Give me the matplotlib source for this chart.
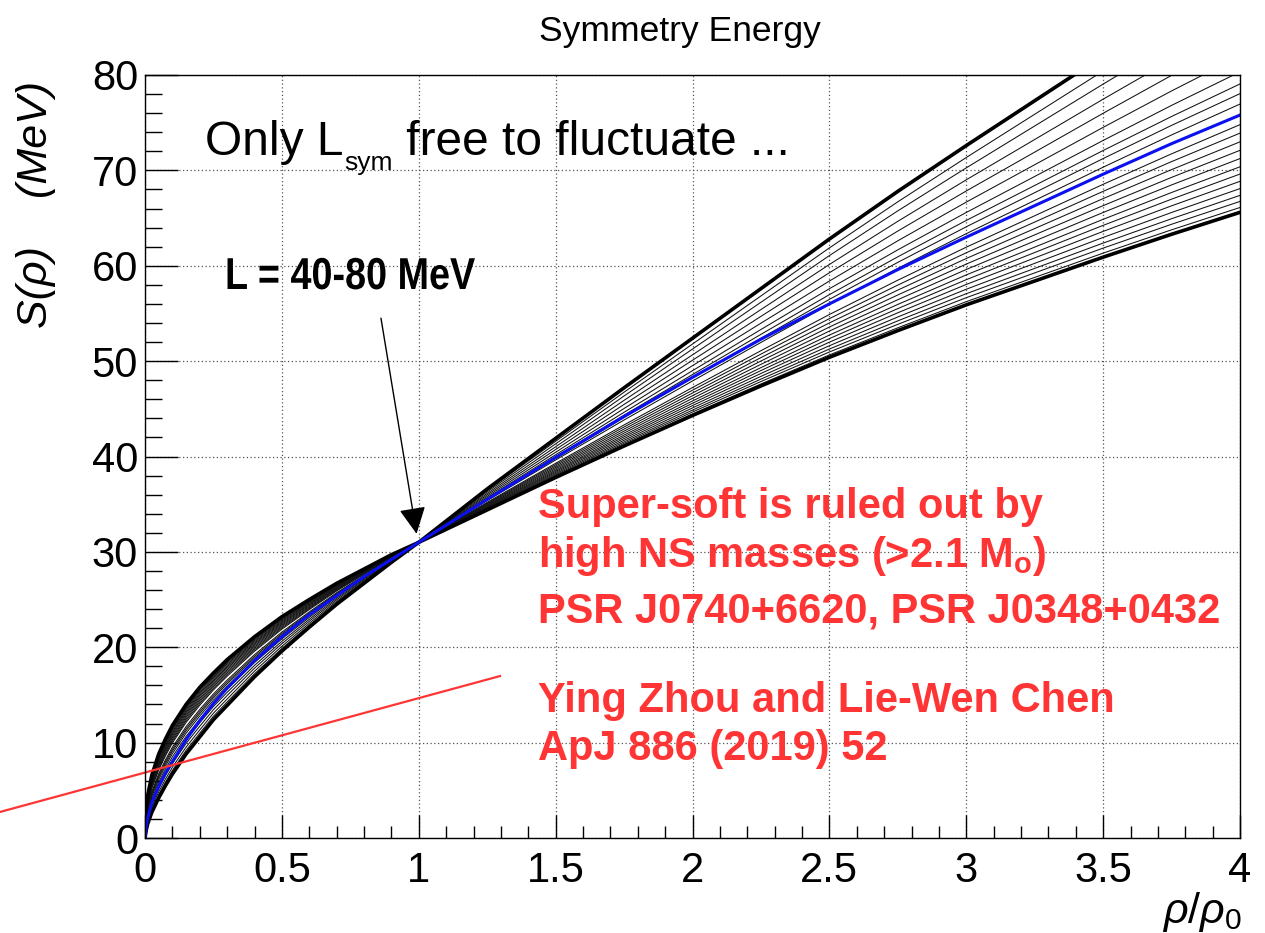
import numpy as np
import matplotlib
matplotlib.use("Agg")
import matplotlib.pyplot as plt
from matplotlib.ticker import MultipleLocator
from matplotlib.transforms import IdentityTransform, Affine2D
from matplotlib.textpath import TextPath
from matplotlib.patches import PathPatch
from matplotlib.font_manager import FontProperties

plt.rcParams['font.family'] = ['Liberation Sans', 'DejaVu Sans']
plt.rcParams['mathtext.fontset'] = 'custom'
plt.rcParams['mathtext.rm'] = 'Liberation Sans'
plt.rcParams['mathtext.it'] = 'Liberation Sans:italic'
plt.rcParams['mathtext.bf'] = 'Liberation Sans:bold'

# density rho/rho0 and S(rho) in MeV
rho = [0.0, 0.005, 0.01, 0.025, 0.05, 0.075, 0.1, 0.15, 0.2, 0.25, 0.3, 0.4, 0.5,
       0.6, 0.7, 0.8, 0.9, 1.0, 1.25, 1.5, 1.75, 2.0, 2.25, 2.5, 2.75, 3.0, 3.25,
       3.5, 3.75, 4.0]
# L = 40 MeV bound
s_soft = [0.0, 3.4, 4.5, 6.6, 8.8, 10.4, 11.8, 14.0, 15.8, 17.3, 18.7, 21.1, 23.2,
          25.0, 26.7, 28.2, 29.7, 31.0, 34.4, 37.8, 41.1, 44.3, 47.4, 50.4, 53.2,
          55.9, 58.4, 60.9, 63.3, 65.6]
# L = 80 MeV bound
s_stiff = [0.0, 0.9, 1.5, 2.7, 4.2, 5.5, 6.7, 8.8, 10.6, 12.4, 13.9, 16.9, 19.6,
           22.1, 24.5, 26.7, 28.9, 31.0, 36.6, 41.9, 47.2, 52.4, 57.6, 62.8, 67.8,
           72.6, 77.3, 82.0, 86.6, 91.0]
# central curve (blue)
s_mid = [0.0, 1.4, 2.1, 3.7, 5.4, 6.8, 8.0, 10.3, 12.3, 14.1, 15.7, 18.6, 21.1,
         23.4, 25.4, 27.4, 29.2, 31.0, 35.5, 39.9, 44.2, 48.3, 52.3, 56.0, 59.6,
         63.0, 66.3, 69.6, 72.8, 75.8]
# intermediate L values: position inside the band, soft (0) -> stiff (1)
band_frac = [0.02, 0.045, 0.07, 0.098, 0.128, 0.158, 0.188, 0.222, 0.256, 0.291,
             0.327, 0.362, 0.447, 0.49, 0.53, 0.58, 0.645, 0.715, 0.785, 0.86, 0.925]

xticks = [0, 0.5, 1, 1.5, 2, 2.5, 3, 3.5, 4]
xticklabels = ['0', '0.5', '1', '1.5', '2', '2.5', '3', '3.5', '4']
yticks = [0, 10, 20, 30, 40, 50, 60, 70, 80]

RED = '#ff3535'
H = 933

soft = np.array(s_soft)
stiff = np.array(s_stiff)

fig = plt.figure(figsize=(12.65, 9.33), dpi=100)
ax = fig.add_axes([145 / 1265, 1 - 838 / H, 1095 / 1265, 763 / H])

for f in band_frac:
    ax.plot(rho, soft + f * (stiff - soft), color='#111111', lw=0.75)
ax.plot(rho, s_soft, color='black', lw=2.6)
ax.plot(rho, s_stiff, color='black', lw=2.6)
ax.plot(rho, s_mid, color='#0a10f0', lw=2.2)

ax.set_xlim(0, 4)
ax.set_ylim(0, 80)
ax.set_xticks(xticks)
ax.set_xticklabels(xticklabels)
ax.set_yticks(yticks)
ax.xaxis.set_minor_locator(MultipleLocator(0.1))
ax.yaxis.set_minor_locator(MultipleLocator(2))
ax.tick_params(axis='both', which='both', direction='in', top=False, right=False,
               width=1, labelsize=30)
ax.tick_params(axis='x', which='major', length=16.5, pad=9)
ax.tick_params(axis='x', which='minor', length=8.3)
ax.tick_params(axis='y', which='major', length=23.7, pad=5)
ax.tick_params(axis='y', which='minor', length=11.9)
ax.grid(True, which='major', color='#555555', linestyle=(0, (1, 2)), lw=0.9)
ax.set_axisbelow(True)
for sp in ax.spines.values():
    sp.set_linewidth(1.0)

# "Only L_sym free to fluctuate ..." built from pieces so the subscript sits low
renderer = fig.canvas.get_renderer()
t1 = fig.text(205, H - 155, 'Only L', fontsize=34.5, va='baseline', ha='left',
              transform=IdentityTransform())
x_sym = t1.get_window_extent(renderer).x1 + 1
t2 = fig.text(x_sym, H - 170, 'sym', fontsize=19, va='baseline', ha='left',
              transform=IdentityTransform())
x_rest = t2.get_window_extent(renderer).x1
fig.text(x_rest, H - 155, ' free to fluctuate ...', fontsize=34.5, va='baseline',
         ha='left', transform=IdentityTransform())

# condensed bold label: bold glyph outlines squeezed horizontally
label_path = TextPath((0, 0), 'L = 40-80 MeV', size=44.7,
                      prop=FontProperties(family='Liberation Sans', weight='bold'))
label_tr = Affine2D().scale(0.845, 1.0).translate(225, H - 289)
fig.add_artist(PathPatch(label_path, transform=label_tr, facecolor='black',
                         edgecolor='none'))

ax.annotate('', xy=(0.992, 31.9), xytext=(0.862, 54.5),
            arrowprops=dict(arrowstyle='-|>,head_length=1.1,head_width=0.55',
                            mutation_scale=15, lw=1.0, color='black',
                            shrinkA=0, shrinkB=0))

red_lines = [
    (33.5, 'Super-soft is ruled out by'),
    (28.4, r'high NS masses (>2.1 M$_{\mathbf{o}}$)'),
    (22.6, 'PSR J0740+6620, PSR J0348+0432'),
    (13.2, 'Ying Zhou and Lie-Wen Chen'),
    (8.2, 'ApJ 886 (2019) 52'),
]
for y, s in red_lines:
    ax.text(1.435, y, s, color=RED, fontsize=30, fontweight='bold',
            va='baseline', ha='left')

ax.plot([-0.5297, 1.2968], [2.73, 16.98], color=RED, lw=1.6, clip_on=False)

fig.text(680 / 1265, 1 - 31 / H, 'Symmetry Energy', ha='center', va='center',
         fontsize=25.5)
fig.text(36 / 1265, 1 - 204 / H, 'S(ρ)    (MeV)', rotation=90, ha='center',
         va='center', fontsize=31, style='italic')
fig.text(1242 / 1265, 1 - 912 / H, r'$\rho/\rho_0$', ha='right', va='center',
         fontsize=31)

fig.savefig('out.png', dpi=100)
